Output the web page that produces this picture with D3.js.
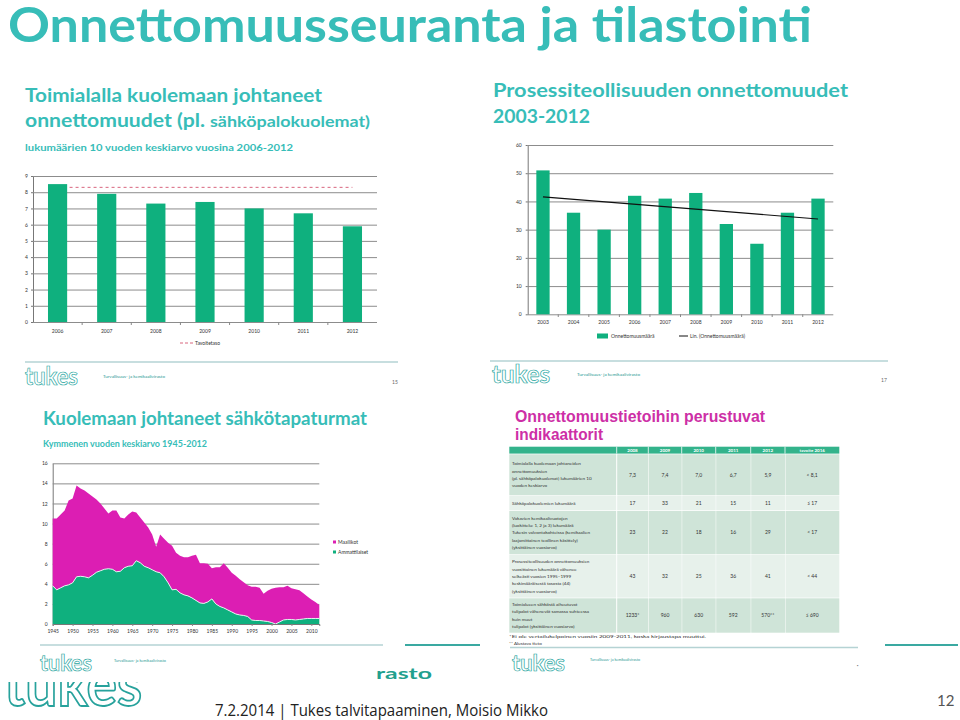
<!DOCTYPE html>
<html><head><meta charset="utf-8">
<script src="https://cdn.jsdelivr.net/npm/d3@7"></script>
<style>body{margin:0;background:#fff}svg{display:block}</style>
</head><body>
<svg id="c" width="960" height="720"></svg>
<script>
// ---------------- DATA ----------------
const p1Years = ["2006","2007","2008","2009","2010","2011","2012"];
const p1Values = [8.5, 7.9, 7.3, 7.4, 7.0, 6.7, 5.9];
const p1Target = 8.3;
const p1YTicks = [0,1,2,3,4,5,6,7,8,9];

const p2Years = ["2003","2004","2005","2006","2007","2008","2009","2010","2011","2012"];
const p2Values = [51, 36, 30, 42, 41, 43, 32, 25, 36, 41];
const p2YTicks = [0,10,20,30,40,50,60];

const p3Years = d3.range(1945, 2013);
const p3Ammattilaiset = [3.8,3.4,3.6,3.8,3.9,4.1,4.7,4.75,4.7,4.6,4.85,5.15,5.3,5.45,5.5,5.45,5.2,5.25,5.6,5.75,
  5.8,6.3,6.1,5.75,5.6,5.4,5.2,5.1,4.7,4.1,3.4,3.45,3.1,2.9,2.8,2.6,2.35,2.1,2.05,2.2,
  2.5,2.0,1.75,1.6,1.4,1.2,1.0,0.9,0.85,0.75,0.4,0.35,0.35,0.3,0.25,0.15,0.0,0.2,0.4,0.45,
  0.45,0.4,0.45,0.5,0.55,0.55,0.55,0.55];
const p3Maallikot = [6.7,7.1,7.3,7.5,8.4,8.4,9.1,8.75,8.6,8.4,7.85,7.25,6.7,6.05,5.5,5.85,6.1,5.35,4.9,5.15,
  5.4,4.8,4.5,4.35,4.0,3.5,2.5,3.8,3.8,4.0,4.4,3.65,3.7,3.75,3.85,4.2,4.55,3.95,4.0,3.8,
  3.05,3.65,3.9,4.45,4.2,3.9,3.8,3.55,3.3,3.1,3.3,3.35,3.25,2.7,3.05,3.35,3.6,3.45,3.25,3.35,
  3.1,3.05,2.9,2.55,2.2,1.9,1.65,1.35];
const p3XTicks = [1945,1950,1955,1960,1965,1970,1975,1980,1985,1990,1995,2000,2005,2010];
const p3YTicks = [0,2,4,6,8,10,12,14,16];
const p3Keys = ["Ammattilaiset","Maallikot"];

const tHeaders = ["2008","2009","2010","2011","2012","tavoite 2016"];
const tLabels = [
  ["Toimialalla kuolemaan johtaneiden","onnettomuuksien","(pl. sähköpalokuolemat) lukumäärien 10","vuoden keskiarvo"],
  ["Sähköpalokuolemien lukumäärä"],
  ["Vakavien kemikaalivuotojen","(luokittelu: 1, 2 ja 3) lukumäärä","Tukesin valvontakohteissa (kemikaalien","laajamittainen teollinen käsittely)","(yksittäinen vuosiarvo)"],
  ["Prosessiteollisuuden onnettomuuksien","vuosittainen lukumäärä vähenee","selkeästi vuosien 1995–1999","keskimääräisestä tasosta (44)","(yksittäinen vuosiarvo)"],
  ["Toimialueen sähköstä aiheutuvat","tulipalot vähenevät samassa suhteessa","kuin muut","tulipalot (yksittäinen vuosiarvo)"]
];
const tValues = [
  ["7,3","7,4","7,0","6,7","5,9","< 8,1"],
  ["17","33","21","15","11","≤ 17"],
  ["23","22","18","16","29","< 17"],
  ["43","32","25","36","41","< 44"],
  ["1233*","960","630","592","570**","≤ 690"]
];

// ---------------- HELPERS ----------------
const svg = d3.select("#c");
const TEAL = "#37bdb8";
const GREEN = "#0fb07e";
const MAG = "#dc1eb3";
const FONT = "Lato, 'Open Sans', sans-serif";
function txt(g, s, x, y, size, o = {}) {
  const t = g.append("text").attr("x", x).attr("y", y)
    .attr("font-size", size).attr("font-family", o.family || FONT)
    .attr("font-weight", o.weight || "normal").attr("fill", o.fill || "#222").text(s);
  if (o.anchor) t.attr("text-anchor", o.anchor);
  if (o.width) t.attr("textLength", o.width).attr("lengthAdjust", "spacingAndGlyphs");
  if (o.stroke) t.attr("stroke", o.stroke).attr("stroke-width", o.sw || 1);
  return t;
}
function styleAxis(g, size) {
  g.selectAll("text").attr("font-size", size).attr("font-family", FONT).attr("fill", "#333");
}
function logo(g, x, y, w, size) {
  txt(g, "tukes", x, y, size, {weight: "bold", fill: "#fff", stroke: "#2aa7a2", sw: 0.7, width: w});
}

// ---------------- SLIDE ----------------
txt(svg, "Onnettomuusseuranta ja tilastointi", 8, 42, 47, {weight: "bold", fill: TEAL, width: 804});

// slide-level footer pieces
svg.append("line").attr("x1", 405).attr("x2", 480).attr("y1", 645).attr("y2", 645).attr("stroke", "#3aa9a1").attr("stroke-width", 2);
svg.append("line").attr("x1", 885).attr("x2", 958).attr("y1", 645).attr("y2", 645).attr("stroke", "#3aa9a1").attr("stroke-width", 2);
svg.append("defs").append("clipPath").attr("id", "bigclip")
  .append("rect").attr("x", 0).attr("y", 682).attr("width", 200).attr("height", 38);
txt(svg, "tukes", 4, 706, 62, {weight: "bold", fill: "#fff", stroke: "#27a29c", sw: 1.8, width: 138})
  .attr("clip-path", "url(#bigclip)");
txt(svg, "rasto", 376, 679, 15, {weight: "bold", fill: "#22a08e", width: 56});
txt(svg, "7.2.2014 | Tukes talvitapaaminen, Moisio Mikko", 215, 716, 17, {fill: "#222", width: 333, family: "'Open Sans', sans-serif"});
txt(svg, "12", 937, 706, 15, {fill: "#555"});

// ---------------- PANEL 1 ----------------
const g1 = svg.append("g");
txt(g1, "Toimialalla kuolemaan johtaneet", 25, 102, 19, {weight: "bold", fill: TEAL, width: 297});
txt(g1, "onnettomuudet (pl.", 25, 127, 19, {weight: "bold", fill: TEAL, width: 180});
txt(g1, "sähköpalokuolemat)", 210, 127, 15, {weight: "bold", fill: TEAL, width: 160});
txt(g1, "lukumäärien 10 vuoden keskiarvo vuosina 2006-2012", 25, 151, 10, {weight: "bold", fill: TEAL, width: 268});

const x1 = d3.scaleBand().domain(p1Years).range([33, 377]).paddingInner(0.61).paddingOuter(0.305);
const y1 = d3.scaleLinear().domain([0, 9]).range([322, 176]);
g1.append("g").attr("transform", "translate(33,0)")
  .call(d3.axisLeft(y1).tickValues(p1YTicks).tickSizeInner(-344).tickSizeOuter(0).tickPadding(5))
  .call(g => { g.select(".domain").attr("stroke", "#777");
    g.selectAll(".tick line").attr("stroke", "#8c8c8c"); styleAxis(g, 5); });
g1.append("g").attr("transform", "translate(33,0)")
  .call(d3.axisLeft(y1).tickValues(p1YTicks).tickSize(2).tickFormat(""))
  .call(g => { g.select(".domain").remove(); g.selectAll("line").attr("stroke", "#777"); });
g1.append("g").attr("transform", "translate(0,322)")
  .call(d3.axisBottom(x1).tickSize(0).tickPadding(7))
  .call(g => { g.select(".domain").remove(); styleAxis(g, 5); });
g1.selectAll(".sep").data(p1Years.slice(1)).join("line")
  .attr("x1", d => x1(d) - (x1.step() - x1.bandwidth()) / 2)
  .attr("x2", d => x1(d) - (x1.step() - x1.bandwidth()) / 2)
  .attr("y1", 322).attr("y2", 325).attr("stroke", "#888");
g1.append("line")
  .attr("x1", x1(p1Years[0]) + x1.bandwidth() / 2)
  .attr("x2", x1(p1Years[p1Years.length - 1]) + x1.bandwidth() / 2)
  .attr("y1", y1(p1Target)).attr("y2", y1(p1Target))
  .attr("stroke", "#d9667f").attr("stroke-width", 1).attr("stroke-dasharray", "3,3");
g1.selectAll(".bar").data(p1Values).join("rect")
  .attr("x", (d, i) => x1(p1Years[i])).attr("y", d => y1(d))
  .attr("width", x1.bandwidth()).attr("height", d => y1(0) - y1(d)).attr("fill", GREEN);
g1.append("line").attr("x1", 180).attr("x2", 193).attr("y1", 343).attr("y2", 343)
  .attr("stroke", "#d9667f").attr("stroke-dasharray", "3,2");
txt(g1, "Tavoitetaso", 195, 345, 5, {fill: "#333"});

// footer panel 1
g1.append("line").attr("x1", 25).attr("x2", 398).attr("y1", 362).attr("y2", 362).attr("stroke", "#b5d3d4").attr("stroke-width", 1.5);
logo(g1, 25, 385, 53, 24);
txt(g1, "Turvallisuus- ja kemikaalivirasto", 103, 378, 4, {fill: "#2a9a94", width: 62});
txt(g1, "15", 392, 384, 5, {fill: "#666"});

// ---------------- PANEL 2 ----------------
const g2 = svg.append("g");
txt(g2, "Prosessiteollisuuden onnettomuudet", 493, 97, 19, {weight: "bold", fill: TEAL, width: 355});
txt(g2, "2003-2012", 493, 123, 19, {weight: "bold", fill: TEAL, width: 97});

const x2 = d3.scaleBand().domain(p2Years).range([527.7, 833.3]).paddingInner(0.565).paddingOuter(0.2825);
const y2 = d3.scaleLinear().domain([0, 60]).range([314.3, 145]);
g2.append("g").attr("transform", "translate(527.7,0)")
  .call(d3.axisLeft(y2).tickValues(p2YTicks).tickSizeInner(-305.6).tickSizeOuter(0).tickPadding(6))
  .call(g => { g.select(".domain").attr("stroke", "#777");
    g.selectAll(".tick line").attr("stroke", "#8c8c8c"); styleAxis(g, 5); });
g2.append("g").attr("transform", "translate(527.7,0)")
  .call(d3.axisLeft(y2).tickValues(p2YTicks).tickSize(2).tickFormat(""))
  .call(g => { g.select(".domain").remove(); g.selectAll("line").attr("stroke", "#777"); });
g2.append("g").attr("transform", "translate(0,314.3)")
  .call(d3.axisBottom(x2).tickSize(0).tickPadding(6))
  .call(g => { g.select(".domain").remove(); styleAxis(g, 5); });
g2.selectAll(".sep").data(p2Years.slice(1)).join("line")
  .attr("x1", d => x2(d) - (x2.step() - x2.bandwidth()) / 2)
  .attr("x2", d => x2(d) - (x2.step() - x2.bandwidth()) / 2)
  .attr("y1", 314.3).attr("y2", 317).attr("stroke", "#888");
g2.selectAll(".bar").data(p2Values).join("rect")
  .attr("x", (d, i) => x2(p2Years[i])).attr("y", d => y2(d))
  .attr("width", x2.bandwidth()).attr("height", d => y2(0) - y2(d)).attr("fill", GREEN);
// linear trend (least squares on the series)
const n2 = p2Values.length;
const mx = d3.mean(d3.range(n2)), my = d3.mean(p2Values);
const slope = d3.sum(p2Values, (v, i) => (i - mx) * (v - my)) / d3.sum(d3.range(n2), i => (i - mx) ** 2);
const icpt = my - slope * mx;
g2.append("line")
  .attr("x1", x2(p2Years[0]) + x2.bandwidth() / 2).attr("y1", y2(icpt))
  .attr("x2", x2(p2Years[n2 - 1]) + x2.bandwidth() / 2).attr("y2", y2(icpt + slope * (n2 - 1)))
  .attr("stroke", "#111").attr("stroke-width", 1.1);
g2.append("rect").attr("x", 597).attr("y", 333.5).attr("width", 11).attr("height", 5).attr("fill", GREEN);
txt(g2, "Onnettomuusmäärä", 611, 338, 5, {fill: "#333"});
g2.append("line").attr("x1", 679).attr("x2", 688).attr("y1", 336).attr("y2", 336).attr("stroke", "#111");
txt(g2, "Lin. (Onnettomuusmäärä)", 690, 338, 5, {fill: "#333"});

g2.append("line").attr("x1", 490).attr("x2", 888).attr("y1", 361).attr("y2", 361).attr("stroke", "#b5d3d4").attr("stroke-width", 1.5);
logo(g2, 492, 383, 58, 24);
txt(g2, "Turvallisuus- ja kemikaalivirasto", 577, 376, 4, {fill: "#2a9a94", width: 63});
txt(g2, "17", 881, 382, 5, {fill: "#666"});

// ---------------- PANEL 3 ----------------
const g3 = svg.append("g");
txt(g3, "Kuolemaan johtaneet sähkötapaturmat", 43, 425, 19, {weight: "bold", fill: TEAL, width: 324});
txt(g3, "Kymmenen vuoden keskiarvo 1945-2012", 43, 447, 10, {weight: "bold", fill: TEAL, width: 164});

const x3 = d3.scaleLinear().domain([1945, 2012]).range([52.7, 319.3]);
const y3 = d3.scaleLinear().domain([0, 16]).range([624, 463.3]);
g3.append("g").attr("transform", "translate(52.7,0)")
  .call(d3.axisLeft(y3).tickValues(p3YTicks).tickSizeInner(-266.6).tickSizeOuter(0).tickPadding(5))
  .call(g => { g.select(".domain").attr("stroke", "#777");
    g.selectAll(".tick line").attr("stroke", "#8c8c8c"); styleAxis(g, 5); });
const rows3 = p3Years.map((yr, i) => ({year: yr, Ammattilaiset: p3Ammattilaiset[i], Maallikot: p3Maallikot[i]}));
const stack3 = d3.stack().keys(p3Keys)(rows3);
const area3 = d3.area().x(d => x3(d.data.year)).y0(d => y3(d[0])).y1(d => y3(d[1]));
const col3 = {Ammattilaiset: GREEN, Maallikot: MAG};
g3.selectAll(".ar").data(stack3.slice().reverse()).join("path")
  .attr("d", area3).attr("fill", d => col3[d.key]);
g3.append("path").datum(stack3[0])
  .attr("d", d3.line().x(d => x3(d.data.year)).y(d => y3(d[1])))
  .attr("fill", "none").attr("stroke", "#e8f0ee").attr("stroke-width", 1);
g3.append("g").attr("transform", "translate(0,624)")
  .call(d3.axisBottom(x3).tickValues(p3XTicks).tickFormat(d3.format("d")).tickSize(2).tickPadding(3))
  .call(g => { g.select(".domain").attr("stroke", "#777"); g.selectAll("line").attr("stroke", "#888"); styleAxis(g, 5); });
const leg3 = [{k: "Maallikot", y: 542}, {k: "Ammattilaiset", y: 552}];
leg3.forEach(l => {
  g3.append("rect").attr("x", 333).attr("y", l.y - 1.5).attr("width", 3).attr("height", 3).attr("fill", col3[l.k]);
  txt(g3, l.k, 338, l.y + 1.8, 5, {fill: "#333"});
});
g3.append("line").attr("x1", 40).attr("x2", 383).attr("y1", 645).attr("y2", 645).attr("stroke", "#b5d3d4").attr("stroke-width", 1.5);
logo(g3, 40, 671, 52, 22);
txt(g3, "Turvallisuus- ja kemikaalivirasto", 114, 662, 4, {fill: "#2a9a94", width: 52});

// ---------------- PANEL 4 (table) ----------------
const g4 = svg.append("g");
const TF = "'Liberation Sans', Arial, sans-serif";
txt(g4, "Onnettomuustietoihin  perustuvat", 515, 422, 16, {weight: "bold", fill: "#cd2fa6", width: 250, family: TF});
txt(g4, "indikaattorit", 515, 440, 16, {weight: "bold", fill: "#cd2fa6", width: 88, family: TF});
const colX = [509.3, 616.7, 648.3, 681.7, 715.7, 750.7, 785, 839.3];
const rowY = [[446.7, 453.6], [454.3, 495.3], [496, 510.3], [511, 554.3], [555, 597.6], [598.3, 632.7]];
// header
g4.append("rect").attr("x", colX[0]).attr("y", rowY[0][0]).attr("width", colX[7] - colX[0])
  .attr("height", rowY[0][1] - rowY[0][0]).attr("fill", "#33b38b");
tHeaders.forEach((h, j) => {
  g4.append("line").attr("x1", colX[j + 1]).attr("x2", colX[j + 1])
    .attr("y1", rowY[0][0]).attr("y2", rowY[0][1]).attr("stroke", "#fff").attr("stroke-width", 0.8);
  txt(g4, h, (colX[j + 1] + colX[j + 2]) / 2, rowY[0][1] - 1.7, 4.5, {fill: "#fff", anchor: "middle", weight: "bold"});
});
tLabels.forEach((lines, i) => {
  const [ya, yb] = rowY[i + 1];
  const fill = i % 2 === 0 ? "#cfe4d8" : "#e7f1eb";
  for (let j = 0; j < 7; j++) {
    g4.append("rect").attr("x", colX[j] + (j ? 0.5 : 0)).attr("y", ya)
      .attr("width", colX[j + 1] - colX[j] - 0.5).attr("height", yb - ya).attr("fill", fill);
  }
  const lh = 7.3, y0 = (ya + yb) / 2 - (lines.length - 1) * lh / 2 + 1.6;
  lines.forEach((s, k) => txt(g4, s, 512, y0 + k * lh, 4.6, {fill: "#333"}));
  tValues[i].forEach((v, j) => txt(g4, v, (colX[j + 1] + colX[j + 2]) / 2, (ya + yb) / 2 + 1.8, 5, {fill: "#333", anchor: "middle"}));
});
txt(g4, "*Ei ole vertailukelpoinen vuosiin 2009-2011, koska kirjaustapa muuttui.", 509, 638, 4.6, {fill: "#333", width: 197});
txt(g4, "** Alustava tieto", 509, 644.5, 4.6, {fill: "#333"});
g4.append("line").attr("x1", 510).attr("x2", 858).attr("y1", 647.5).attr("y2", 647.5).attr("stroke", "#b5d3d4").attr("stroke-width", 1.5);
logo(g4, 512, 671, 53, 22);
txt(g4, "Turvallisuus- ja kemikaalivirasto", 590, 661, 4, {fill: "#2a9a94", width: 50});
txt(g4, "▪", 857, 667, 4, {fill: "#777"});
</script>
</body></html>
